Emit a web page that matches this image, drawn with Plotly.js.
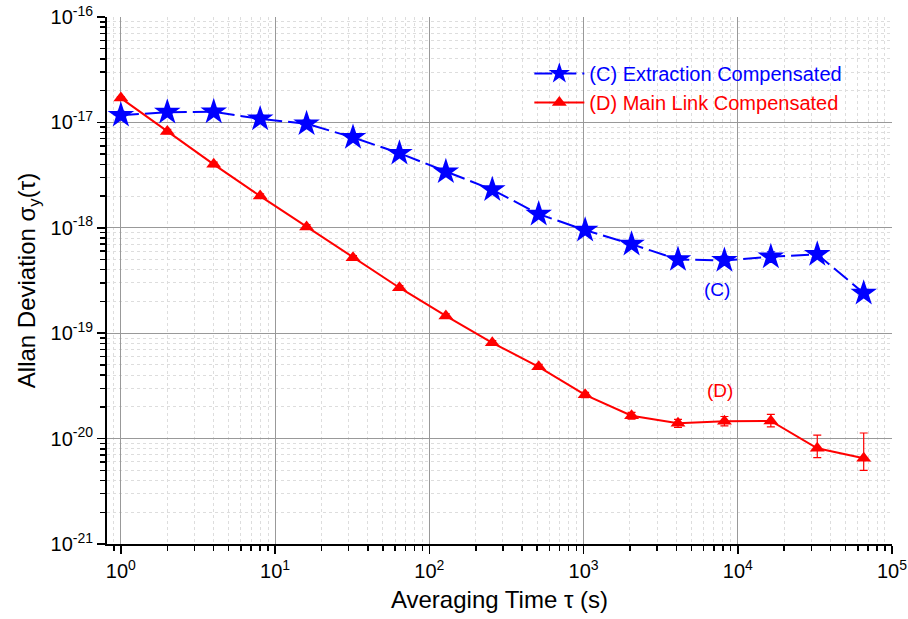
<!DOCTYPE html>
<html><head><meta charset="utf-8">
<script src="https://cdn.plot.ly/plotly-3.0.1.min.js"></script>
<style>html,body{margin:0;padding:0;background:#fff}#c{width:908px;height:619px}</style>
</head><body><div id="c"></div>
<script>
const tau = [1,2,4,8,16,32,64,128,256,512,1024,2048,4096,8192,16384,32768,65536];
const adevC = [1.17e-17,1.25e-17,1.26e-17,1.08e-17,9.7e-18,7.2e-18,5.1e-18,3.4e-18,2.3e-18,1.35e-18,9.5e-19,7.0e-19,5.0e-19,4.9e-19,5.3e-19,5.6e-19,2.4e-19];
const errC = [1e-18,1e-18,1e-18,9e-19,8e-19,5e-19,3e-19,2e-19,1.5e-19,1e-19,6e-20,5e-20,4e-20,5e-20,6e-20,4e-20,2e-20];
const adevD = [1.7e-17,8.2e-18,4.0e-18,2.0e-18,1.02e-18,5.2e-19,2.7e-19,1.46e-19,8.1e-20,4.8e-20,2.6e-20,1.65e-20,1.4e-20,1.46e-20,1.47e-20,8.1e-21,6.5e-21];
const errDplus = [5e-19,4e-19,2e-19,1e-19,5e-20,2.5e-20,1.3e-20,7e-21,4e-21,2.5e-21,1.5e-21,1.2e-21,1.2e-21,1.6e-21,2.3e-21,2.7e-21,4.8e-21];
const errDminus = [5e-19,4e-19,2e-19,1e-19,5e-20,2.5e-20,1.3e-20,7e-21,4e-21,2.5e-21,1.5e-21,1.2e-21,1.2e-21,1.4e-21,1.8e-21,1.5e-21,1.5e-21];
const yTicks = [1e-21,1e-20,1e-19,1e-18,1e-17,1e-16];
const yTickText = ['10<sup>-21</sup>','10<sup>-20</sup>','10<sup>-19</sup>','10<sup>-18</sup>','10<sup>-17</sup>','10<sup>-16</sup>'];
const xTicks = [1,10,100,1000,10000,100000];
const xTickText = ['10<sup>0</sup>','10<sup>1</sup>','10<sup>2</sup>','10<sup>3</sup>','10<sup>4</sup>','10<sup>5</sup>'];

function minors(lo, hi){const v=[];for(let e=lo;e<hi;e++){for(let m=2;m<=9;m++)v.push(m*Math.pow(10,e));}return v;}

const traces = [
 {x:tau,y:adevC,type:'scatter',mode:'lines+markers',name:'<span style="color:#0000ff">(C) Extraction Compensated</span>',
  line:{color:'#0000ff',width:2,dash:'18px,6px'},marker:{symbol:'star',size:20,color:'#0000ff'},
  error_y:{type:'data',array:errC,color:'#0000ff',thickness:1.2,width:4}},
 {x:tau,y:adevD,type:'scatter',mode:'lines+markers',name:'<span style="color:#ff0000">(D) Main Link Compensated</span>',
  line:{color:'#ff0000',width:2},marker:{symbol:'triangle-up',size:13,color:'#ff0000'},
  error_y:{type:'data',symmetric:false,array:errDplus,arrayminus:errDminus,color:'#ff0000',thickness:1.2,width:4}}
];
const layout = {
 width:908,height:619,margin:{l:107,r:16,t:17,b:75},
 paper_bgcolor:'#fff',plot_bgcolor:'#fff',
 font:{family:'Liberation Sans, Arial, sans-serif',size:20,color:'#000'},
 showlegend:true,
 legend:{x:0.538,y:0.93,xanchor:'left',yanchor:'top',bgcolor:'rgba(0,0,0,0)',font:{size:20},tracegroupgap:0,itemwidth:50},
 xaxis:{type:'log',range:[-0.09,5],tickvals:xTicks,ticktext:xTickText,ticks:'outside',ticklen:8,tickwidth:1.5,tickcolor:'#000',
   showline:true,linecolor:'#000',linewidth:2,showgrid:true,gridcolor:'#999',gridwidth:1,zeroline:false,
   tickfont:{size:20},
   minor:{tickvals:minors(-1,5),ticks:'outside',ticklen:5,tickcolor:'#000',showgrid:true,gridcolor:'#ddd',griddash:'dot',gridwidth:1},
   title:{text:'Averaging Time τ (s)',font:{size:24},standoff:10}},
 yaxis:{type:'log',range:[-21,-16],tickvals:yTicks,ticktext:yTickText,ticks:'outside',ticklen:8,tickwidth:1.5,tickcolor:'#000',
   showline:true,linecolor:'#000',linewidth:2,showgrid:true,gridcolor:'#999',gridwidth:1,zeroline:false,
   tickfont:{size:20},
   minor:{tickvals:minors(-21,-16),ticks:'outside',ticklen:5,tickcolor:'#000',showgrid:true,gridcolor:'#ddd',griddash:'dot',gridwidth:1},
   title:{text:'Allan Deviation σ<sub>y</sub>(τ)',font:{size:24},standoff:8}},
 annotations:[
  {x:Math.log10(8192),y:Math.log10(2.6e-19),xref:'x',yref:'y',text:'(C)',showarrow:false,font:{color:'#0000ff',size:19},xanchor:'center',yanchor:'middle',xshift:-7},
  {x:Math.log10(8192),y:Math.log10(2.85e-20),xref:'x',yref:'y',text:'(D)',showarrow:false,font:{color:'#ff0000',size:19},xanchor:'center',yanchor:'middle',xshift:-4}
 ]
};
Plotly.newPlot('c',traces,layout,{displayModeBar:false,staticPlot:true});
</script></body></html>
